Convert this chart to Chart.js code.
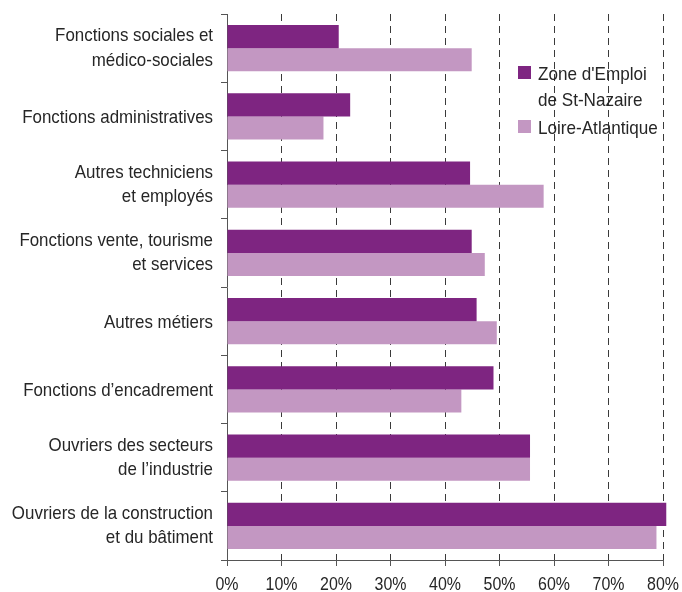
<!DOCTYPE html>
<html>
<head>
<meta charset="utf-8">
<script src="https://cdn.jsdelivr.net/npm/chart.js@4/dist/chart.umd.min.js"></script>
<style>
  html, body { margin: 0; padding: 0; background: #fff; }
  #wrap { width: 682px; height: 592px; }
</style>
</head>
<body>
<div id="wrap"><canvas id="chart"></canvas></div>
<script>
// categories (multi-line labels as in the original)
var categories = [
    ['Fonctions sociales et', 'médico-sociales'],
    ['Fonctions administratives'],
    ['Autres techniciens', 'et employés'],
    ['Fonctions vente, tourisme', 'et services'],
    ['Autres métiers'],
    ['Fonctions d\u2019encadrement'],
    ['Ouvriers des secteurs', 'de l\u2019industrie'],
    ['Ouvriers de la construction', 'et du bâtiment']
];
// values in %
var stNazaire = [20.5, 22.6, 44.6, 44.9, 45.8, 48.9, 55.6, 80.6];
var loireAtlantique = [44.9, 17.7, 58.1, 47.3, 49.5, 43.0, 55.6, 78.8];
var seriesNames = [['Zone d\'Emploi', 'de St-Nazaire'], ['Loire-Atlantique']];
var xTicks = [0, 10, 20, 30, 40, 50, 60, 70, 80];

var FONT = '"Liberation Sans", Arial, sans-serif';
var TEXT = '#262626';

// no narrow font installed: squeeze Liberation Sans horizontally
function narrowText(ctx, text, x, y, align, sx) {
    ctx.save();
    ctx.scale(sx, 1);
    ctx.textAlign = align;
    ctx.fillText(text, x / sx, y);
    ctx.restore();
}

var labelsPlugin = {
    id: 'labelsPlugin',
    afterDraw: function(chart) {
        var ctx = chart.ctx, area = chart.chartArea;
        var xs = chart.scales.x, ys = chart.scales.y;
        ctx.save();
        ctx.font = '19px ' + FONT;
        ctx.fillStyle = TEXT;
        ctx.textBaseline = 'alphabetic';

        // category labels
        categories.forEach(function(lines, i) {
            var c = ys.getPixelForValue(i);
            var first = lines.length == 1 ? c + 7 : c - 7;
            lines.forEach(function(line, k) {
                narrowText(ctx, line, area.left - 14, first + k * 24.5, 'right', 0.89);
            });
        });

        // value ticks
        xTicks.forEach(function(v) {
            narrowText(ctx, v + '%', xs.getPixelForValue(v), area.bottom + 30, 'center', 0.84);
        });

        // legend inside the plot, no box
        var lx = area.right - 145, ly = area.top + 52;
        chart.data.datasets.forEach(function(ds) {
            ctx.fillStyle = ds.backgroundColor;
            ctx.fillRect(lx, ly, 13, 13);
            ctx.fillStyle = TEXT;
            ds.legendLines.forEach(function(line, k) {
                narrowText(ctx, line, lx + 20, ly + 14 + k * 26, 'left', 0.9);
            });
            ly += 26 * ds.legendLines.length + 2;
        });
        ctx.restore();
    }
};

var ctx = document.getElementById('chart').getContext('2d');
var chart = new Chart(ctx, {
    type: 'bar',
    data: {
        labels: categories,
        datasets: [{
            label: seriesNames[0].join(' '),
            legendLines: seriesNames[0],
            data: stNazaire,
            backgroundColor: '#7e2581',
            categoryPercentage: 0.68,
            barPercentage: 1.0,
            clip: false
        }, {
            label: seriesNames[1].join(' '),
            legendLines: seriesNames[1],
            data: loireAtlantique,
            backgroundColor: '#c397c2',
            categoryPercentage: 0.68,
            barPercentage: 1.0,
            clip: false
        }]
    },
    options: {
        indexAxis: 'y',
        responsive: true,
        maintainAspectRatio: false,
        animation: false,
        layout: { padding: { top: 14, right: 19, left: 0, bottom: 0 } },
        plugins: {
            legend: { display: false },
            tooltip: { enabled: false }
        },
        scales: {
            x: {
                min: xTicks[0],
                max: xTicks[xTicks.length - 1],
                afterBuildTicks: function(scale) {
                    scale.ticks = xTicks.map(function(v) { return { value: v }; });
                },
                afterFit: function(scale) {
                    scale.height = 32;
                    scale.paddingLeft = 0;
                    scale.paddingRight = 0;
                },
                border: { display: true, color: '#555', width: 1, dash: [7, 5] },
                grid: {
                    color: '#3a3a3a',
                    lineWidth: 1,
                    tickLength: 6,
                    tickColor: '#555'
                },
                ticks: { display: false }
            },
            y: {
                afterFit: function(scale) {
                    scale.width = 227;
                    scale.paddingTop = 0;
                    scale.paddingBottom = 0;
                },
                border: { display: true, color: '#555', width: 1 },
                grid: {
                    offset: true,
                    drawOnChartArea: false,
                    tickLength: 6,
                    tickColor: '#555'
                },
                ticks: { display: false }
            }
        }
    },
    plugins: [labelsPlugin]
});
</script>
</body>
</html>
